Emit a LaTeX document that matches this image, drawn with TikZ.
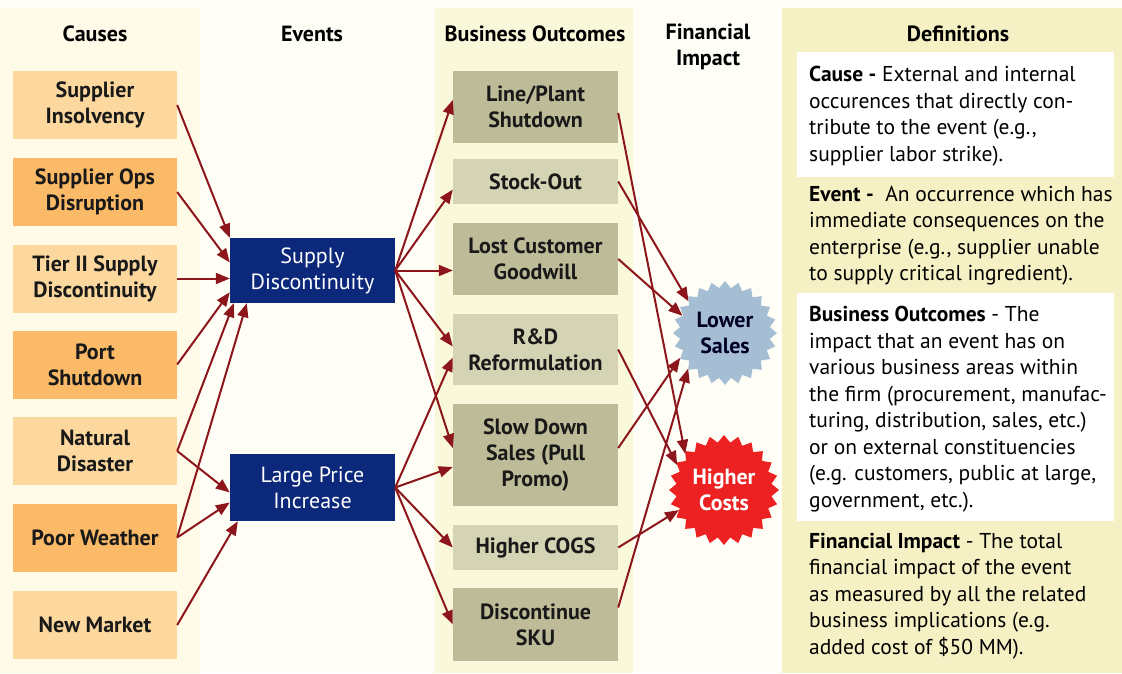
\documentclass[tikz,border=0pt]{standalone}
\usepackage{fontspec}
\setmainfont{PT Sans}
\usetikzlibrary{arrows.meta,shapes.geometric}

\definecolor{pagecream}{RGB}{255,254,246}
\definecolor{causecream}{RGB}{255,251,232}
\definecolor{outcream}{RGB}{250,248,218}
\definecolor{defyellow}{RGB}{246,241,196}
\definecolor{lightorange}{RGB}{252,216,158}
\definecolor{darkorange}{RGB}{250,186,104}
\definecolor{eventnavy}{RGB}{12,40,122}
\definecolor{lightolive}{RGB}{212,211,180}
\definecolor{darkolive}{RGB}{190,188,152}
\definecolor{arrowred}{RGB}{140,22,28}
\definecolor{salesblue}{RGB}{166,190,212}
\definecolor{costred}{RGB}{236,34,34}

\begin{document}
\begin{tikzpicture}[x=1pt,y=-1pt,
  causebox/.style={minimum width=164pt,minimum height=68pt,inner sep=0pt,align=center,
    font=\fontsize{22}{26}\selectfont\bfseries,text=black!90},
  eventbox/.style={fill=eventnavy,minimum width=165pt,inner sep=0pt,align=center,
    font=\fontsize{22}{26}\selectfont,text=white},
  outbox/.style={minimum width=165pt,inner sep=0pt,align=center,
    font=\fontsize{22}{26}\selectfont\bfseries,text=black!90},
  starnode/.style={star,star points=24,star point ratio=1.15,inner sep=0pt,align=center,
    font=\fontsize{22}{26}\selectfont\bfseries},
  head/.style={align=center,font=\fontsize{22}{26}\selectfont\bfseries},
  deftext/.style={anchor=north west,inner sep=0pt,align=left,font=\fontsize{21.5}{26.5}\selectfont},
  arr/.style={draw=arrowred,line width=2pt,-{Triangle[length=14pt,width=11pt]}}]

% backgrounds
\fill[pagecream] (0,0) rectangle (1122,673);
\fill[causecream] (0,8) rectangle (200,673);
\fill[outcream] (435,8) rectangle (633,673);
\fill[defyellow] (782,8) rectangle (1122,673);
\fill[white] (797,52) rectangle (1114,177);
\fill[white] (797,293) rectangle (1114,521);

% column heads
\node[head] (hcause) at (95,34) {Causes};
\node[head] (hevent) at (312,34) {Events};
\node[head] (hout) at (535,34) {Business Outcomes};
\node[head] (himpact) at (708,47) {Financial\\Impact};
\node[head] (hdef) at (958,34) {Definitions};

% causes
\node[causebox,fill=lightorange] (c1) at (95,105) {Supplier\\Insolvency};
\node[causebox,fill=darkorange] (c2) at (95,192) {Supplier Ops\\Disruption};
\node[causebox,fill=lightorange] (c3) at (95,278.5) {Tier II Supply\\Discontinuity};
\node[causebox,fill=darkorange] (c4) at (95,364.5) {Port\\Shutdown};
\node[causebox,fill=lightorange] (c5) at (95,451) {Natural\\Disaster};
\node[causebox,fill=darkorange] (c6) at (95,537.5) {Poor Weather};
\node[causebox,fill=lightorange] (c7) at (95,625) {New Market};

% events
\node[eventbox,minimum height=65pt] (sd) at (312.5,270.5) {Supply\\Discontinuity};
\node[eventbox,minimum height=67pt] (lpi) at (312.5,487.5) {Large Price\\Increase};

% business outcomes
\node[outbox,fill=darkolive,minimum height=72pt] (o1) at (535.5,107) {Line/Plant\\Shutdown};
\node[outbox,fill=lightolive,minimum height=45pt] (o2) at (535.5,181.5) {Stock-Out};
\node[outbox,fill=darkolive,minimum height=72pt] (o3) at (535.5,259) {Lost Customer\\Goodwill};
\node[outbox,fill=lightolive,minimum height=71pt] (o4) at (535.5,349.5) {R\&D\\Reformulation};
\node[outbox,fill=darkolive,minimum height=102pt] (o5) at (535.5,455) {Slow Down\\Sales (Pull\\Promo)};
\node[outbox,fill=lightolive,minimum height=45pt] (o6) at (535.5,547.5) {Higher COGS};
\node[outbox,fill=darkolive,minimum height=73pt] (o7) at (535.5,624.5) {Discontinue\\SKU};

% financial impact
\node[starnode,fill=salesblue,text=black!85!blue,minimum size=104pt] (ls) at (725,333) {Lower\\Sales};
\node[starnode,fill=costred,text=white,minimum size=110pt] (hc) at (724,490) {Higher\\Costs};

% causes to events
\draw[arr] (c1.east) -- (sd.north west);
\draw[arr] (c2.east) -- ([yshift=8pt]sd.west);
\draw[arr] (c3.east) -- (c3.east -| sd.west);
\draw[arr] (c4.east) -- ([yshift=11pt]sd.south west);
\draw[arr] (c5.east) -- ([xshift=4pt]sd.south west);
\draw[arr] (c6.east) -- ([xshift=17pt]sd.south west);
\draw[arr] (c5.east) -- ([yshift=-5pt]lpi.west);
\draw[arr] (c6.east) -- ([yshift=-15pt]lpi.west);
\draw[arr] (c7.east) -- ([xshift=8pt]lpi.south west);

% events to outcomes
\draw[arr] (sd.east) -- ([yshift=7pt]o1.west);
\draw[arr] (sd.east) -- ([yshift=-8pt]o2.west);
\draw[arr] (sd.east) -- (sd.east -| o3.west);
\draw[arr] (sd.east) -- ([yshift=3pt]o4.west);
\draw[arr] (sd.east) -- ([yshift=7pt]o5.west);
\draw[arr] (lpi.east) -- ([yshift=-8pt]o4.west);
\draw[arr] (lpi.east) -- ([yshift=-12pt]o5.west);
\draw[arr] (lpi.east) -- (o6.west);
\draw[arr] (lpi.east) -- (o7.west);

% outcomes to impact
\draw[arr] ([yshift=-6pt]o1.east) -- (hc.137);
\draw[arr] (o2.east) -- (ls.139);
\draw[arr] (o3.east) -- (ls.158);
\draw[arr] (o4.east) -- (hc.152);
\draw[arr] ([yshift=7pt]o5.east) -- (ls.209);
\draw[arr] (o6.east) -- (hc.204);
\draw[arr] ([yshift=17pt]o7.east) -- (ls.224);

% definitions
\node[deftext] (dcause) at (809,66) {\textbf{Cause -} External and internal\\occurences that directly con-\\tribute to the event (e.g.,\\supplier labor strike).};
\node[deftext] (devent) at (809,186) {\textbf{Event -}~ An occurrence which has\\immediate consequences on the\\enterprise (e.g., supplier unable\\to supply critical ingredient).};
\node[deftext] (dout) at (809,306) {\textbf{Business Outcomes} - The\\impact that an event has on\\various business areas within\\the firm (procurement, manufac-\\turing, distribution, sales, etc.)\\or on external constituencies\\(e.g. customers, public at large,\\government, etc.).};
\node[deftext] (dimpact) at (809,533) {\textbf{Financial Impact} - The total\\financial impact of the event\\as measured by all the related\\business implications (e.g.\\added cost of \$50 MM).};
\end{tikzpicture}
\end{document}
